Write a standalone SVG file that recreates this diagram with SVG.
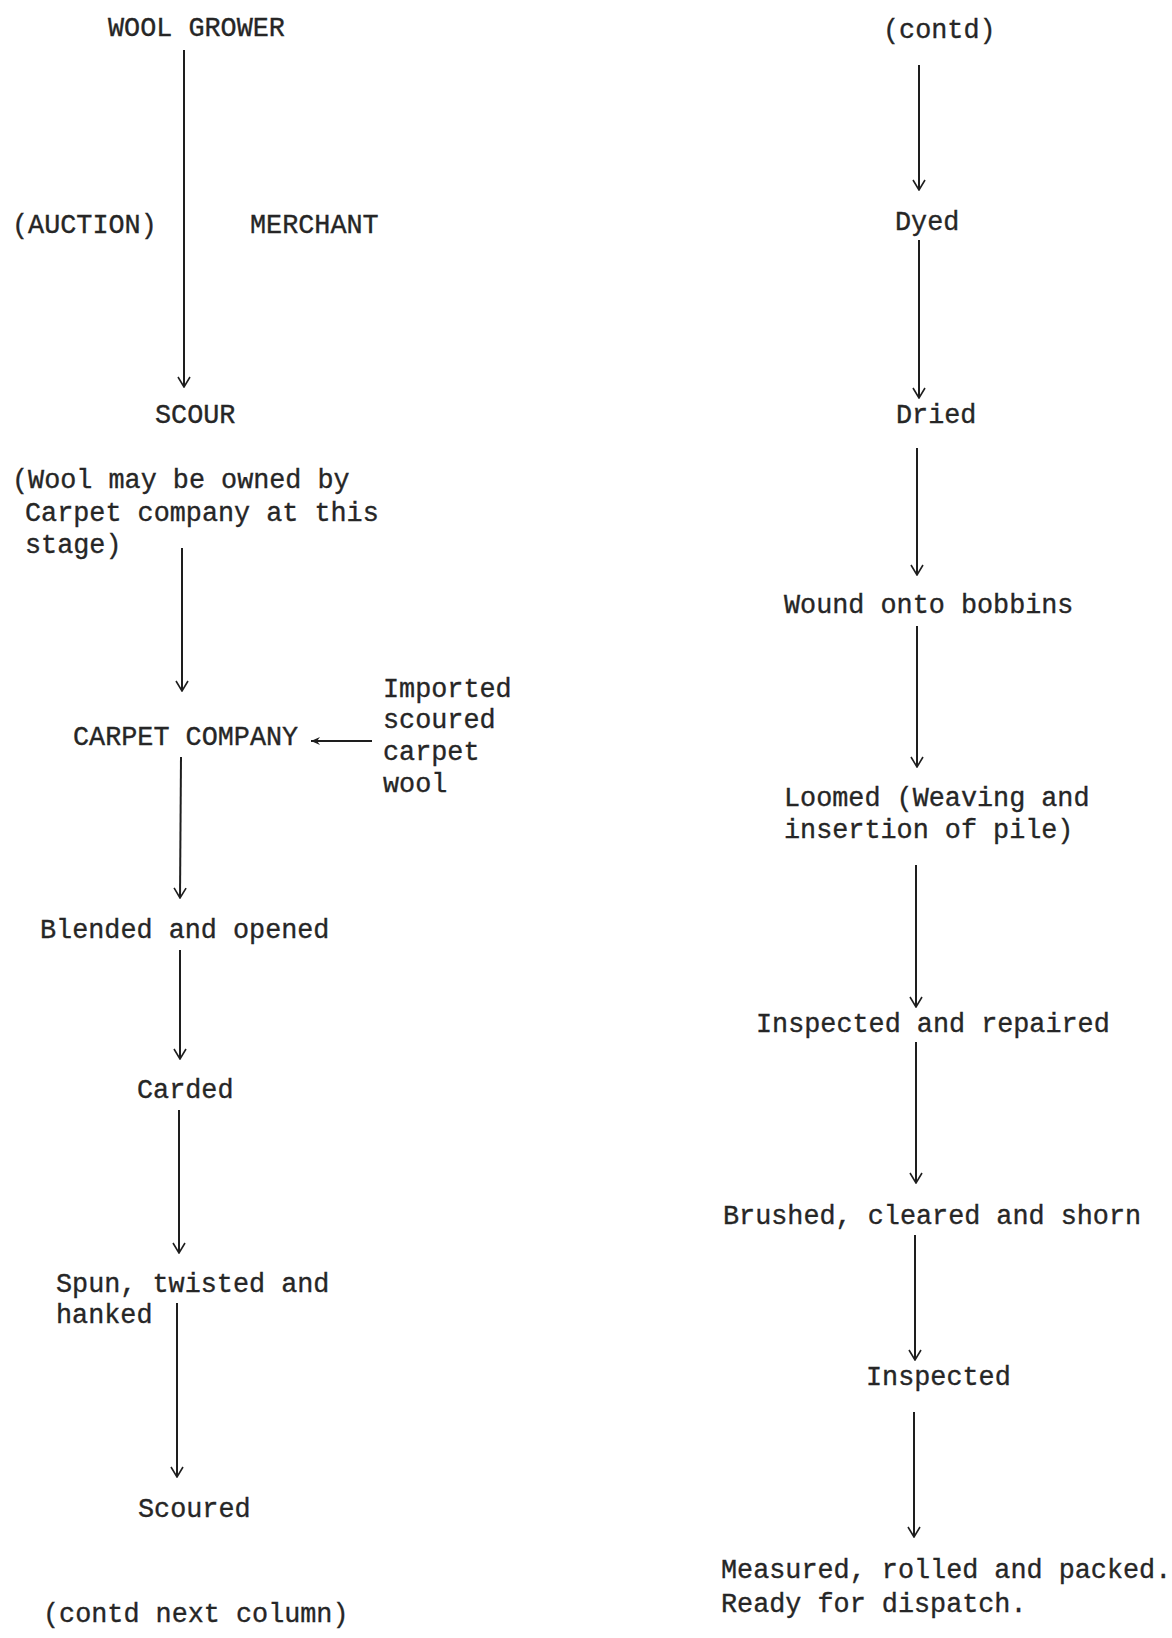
<svg xmlns="http://www.w3.org/2000/svg" width="1172" height="1638" viewBox="0 0 1172 1638">
  <style>
    .t { font-family: "Liberation Mono", "DejaVu Sans Mono", monospace; font-size: 26.8px; fill: #262626; stroke: #262626; stroke-width: 0.35; }
    .flow { stroke: #1e1e1e; stroke-width: 2; fill: none; }
    .feed { stroke: #1e1e1e; stroke-width: 1.8; fill: none; }
  </style>
  <defs>
    <!-- open V head used on the vertical process arrows -->
    <marker id="vhead" viewBox="-1 -7 12 14" refX="10" refY="0" markerWidth="12" markerHeight="14" markerUnits="userSpaceOnUse" orient="auto">
      <path d="M0,-6 L10,0 L0,6" fill="none" stroke="#1e1e1e" stroke-width="1.6"/>
    </marker>
    <!-- small solid head for the side input -->
    <marker id="shead" viewBox="0 -5 10 10" refX="9" refY="0" markerWidth="10" markerHeight="10" markerUnits="userSpaceOnUse" orient="auto">
      <path d="M0,-4 L9,0 L0,4 L3,0 Z" fill="#1e1e1e"/>
    </marker>
  </defs>
  <rect width="1172" height="1638" fill="#ffffff"/>

  <!-- left column -->
  <g id="wool-grower"><text class="t" x="108" y="36">WOOL GROWER</text></g>
  <g id="auction"><text class="t" x="12" y="233">(AUCTION)</text></g>
  <g id="merchant"><text class="t" x="250" y="233">MERCHANT</text></g>
  <g id="scour"><text class="t" x="155" y="423">SCOUR</text></g>
  <g id="ownership-note">
    <text class="t" x="12" y="488">(Wool may be owned by</text>
    <text class="t" x="25" y="521">Carpet company at this</text>
    <text class="t" x="25" y="553">stage)</text>
  </g>
  <g id="carpet-company"><text class="t" x="73" y="745">CARPET COMPANY</text></g>
  <g id="imported-wool">
    <text class="t" x="383" y="697">Imported</text>
    <text class="t" x="383" y="728">scoured</text>
    <text class="t" x="383" y="760">carpet</text>
    <text class="t" x="383" y="792">wool</text>
  </g>
  <g id="blended"><text class="t" x="40" y="938">Blended and opened</text></g>
  <g id="carded"><text class="t" x="137" y="1098">Carded</text></g>
  <g id="spun">
    <text class="t" x="56" y="1292">Spun, twisted and</text>
    <text class="t" x="56" y="1323">hanked</text>
  </g>
  <g id="scoured"><text class="t" x="138" y="1517">Scoured</text></g>
  <g id="contd-next"><text class="t" x="43" y="1622">(contd next column)</text></g>

  <!-- right column -->
  <g id="contd"><text class="t" x="883" y="38">(contd)</text></g>
  <g id="dyed"><text class="t" x="895" y="230">Dyed</text></g>
  <g id="dried"><text class="t" x="896" y="423">Dried</text></g>
  <g id="wound"><text class="t" x="784" y="613">Wound onto bobbins</text></g>
  <g id="loomed">
    <text class="t" x="784" y="806">Loomed (Weaving and</text>
    <text class="t" x="784" y="838">insertion of pile)</text>
  </g>
  <g id="inspected-repaired"><text class="t" x="756" y="1032">Inspected and repaired</text></g>
  <g id="brushed"><text class="t" x="723" y="1224">Brushed, cleared and shorn</text></g>
  <g id="inspected"><text class="t" x="866" y="1385">Inspected</text></g>
  <g id="measured">
    <text class="t" x="721" y="1578">Measured, rolled and packed.</text>
    <text class="t" x="721" y="1612">Ready for dispatch.</text>
  </g>

  <!-- connectors -->
  <g id="connectors">
    <line class="flow" x1="184" y1="50" x2="184" y2="387" marker-end="url(#vhead)"/>
    <line class="flow" x1="182" y1="548" x2="182" y2="691" marker-end="url(#vhead)"/>
    <line class="flow" x1="181" y1="757" x2="180" y2="898" marker-end="url(#vhead)"/>
    <line class="flow" x1="180" y1="950" x2="180" y2="1059" marker-end="url(#vhead)"/>
    <line class="flow" x1="179" y1="1110" x2="179" y2="1253" marker-end="url(#vhead)"/>
    <line class="flow" x1="177" y1="1303" x2="177" y2="1477" marker-end="url(#vhead)"/>
    <line class="feed" x1="372" y1="741" x2="311" y2="741" marker-end="url(#shead)"/>

    <line class="flow" x1="919" y1="65" x2="919" y2="190" marker-end="url(#vhead)"/>
    <line class="flow" x1="919" y1="240" x2="919" y2="398" marker-end="url(#vhead)"/>
    <line class="flow" x1="917" y1="448" x2="917" y2="575" marker-end="url(#vhead)"/>
    <line class="flow" x1="917" y1="626" x2="917" y2="767" marker-end="url(#vhead)"/>
    <line class="flow" x1="916" y1="865" x2="916" y2="1007" marker-end="url(#vhead)"/>
    <line class="flow" x1="916" y1="1042" x2="916" y2="1183" marker-end="url(#vhead)"/>
    <line class="flow" x1="915" y1="1235" x2="915" y2="1360" marker-end="url(#vhead)"/>
    <line class="flow" x1="914" y1="1412" x2="914" y2="1537" marker-end="url(#vhead)"/>
  </g>
</svg>
